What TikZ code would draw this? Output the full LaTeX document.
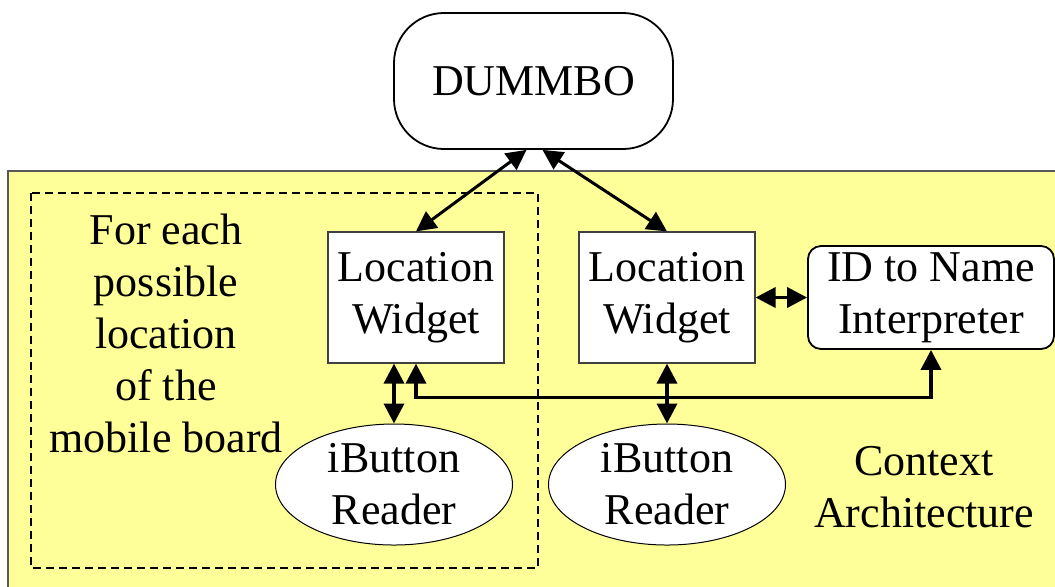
\documentclass[tikz,border=0pt]{standalone}
\usepackage{fontspec}
\setmainfont{Liberation Serif}
\usetikzlibrary{arrows.meta,shapes.geometric}
\definecolor{ctxyellow}{HTML}{FFFF99}
\tikzset{
  widget/.style={draw=black!75,fill=white,line width=0.6pt,minimum width=88pt,minimum height=65.5pt,inner sep=0pt,align=center},
  reader/.style={ellipse,draw,fill=white,line width=0.5pt,minimum width=118.5pt,minimum height=60.5pt,inner sep=0pt,align=center},
  interp/.style={draw,fill=white,rounded corners=6.5pt,line width=0.9pt,minimum width=123pt,minimum height=51.5pt,inner sep=0pt,align=center},
  link/.style={<->,>={Triangle[length=10pt,width=10pt]},line width=1.8pt},
}
\begin{document}
\begin{tikzpicture}[x=0.5pt,y=-0.5pt,font=\fontsize{22}{26}\selectfont]
    \useasboundingbox (0,0) rectangle (1055,586);
    % context architecture area
    \filldraw[fill=ctxyellow,draw=black!65,line width=0.6pt] (8,171) rectangle (1058,590);
    \draw[dash pattern=on 4pt off 2.5pt,line width=0.6pt] (31,193) rectangle (538,568);
    \node[align=center] (each) at (166,333) {For each\\possible\\location\\of the\\mobile board};
    \node[align=center] (ctx) at (924,487) {Context\\Architecture};
    % components
    \node[draw,fill=white,rounded corners=25pt,line width=0.9pt,minimum width=139.5pt,minimum height=68pt,inner sep=0pt] (dummbo) at (533.5,81) {DUMMBO};
    \node[widget] (lwA) at (416,297.5) {Location\\Widget};
    \node[widget] (lwB) at (667,297.5) {Location\\Widget};
    \node[interp] (idn) at (931,297.5) {ID to Name\\Interpreter};
    \node[reader] (rdA) at (394,484.5) {iButton\\Reader};
    \node[reader] (rdB) at (667,484.5) {iButton\\Reader};
    % connectors
    \draw[link,line width=1.5pt] ([xshift=-3.5pt]dummbo.south) -- (lwA.north);
    \draw[link,line width=1.5pt] ([xshift=4.5pt]dummbo.south) -- (lwB.north);
    \draw[link] (rdA.north) -- (rdA.north |- lwA.south);
    \draw[link] (rdB.north) -- (lwB.south);
    \draw[link] (lwB.east) -- (idn.west);
    \draw[link] (lwA.south) -- ++(0,34) -| (idn.south);
\end{tikzpicture}
\end{document}
